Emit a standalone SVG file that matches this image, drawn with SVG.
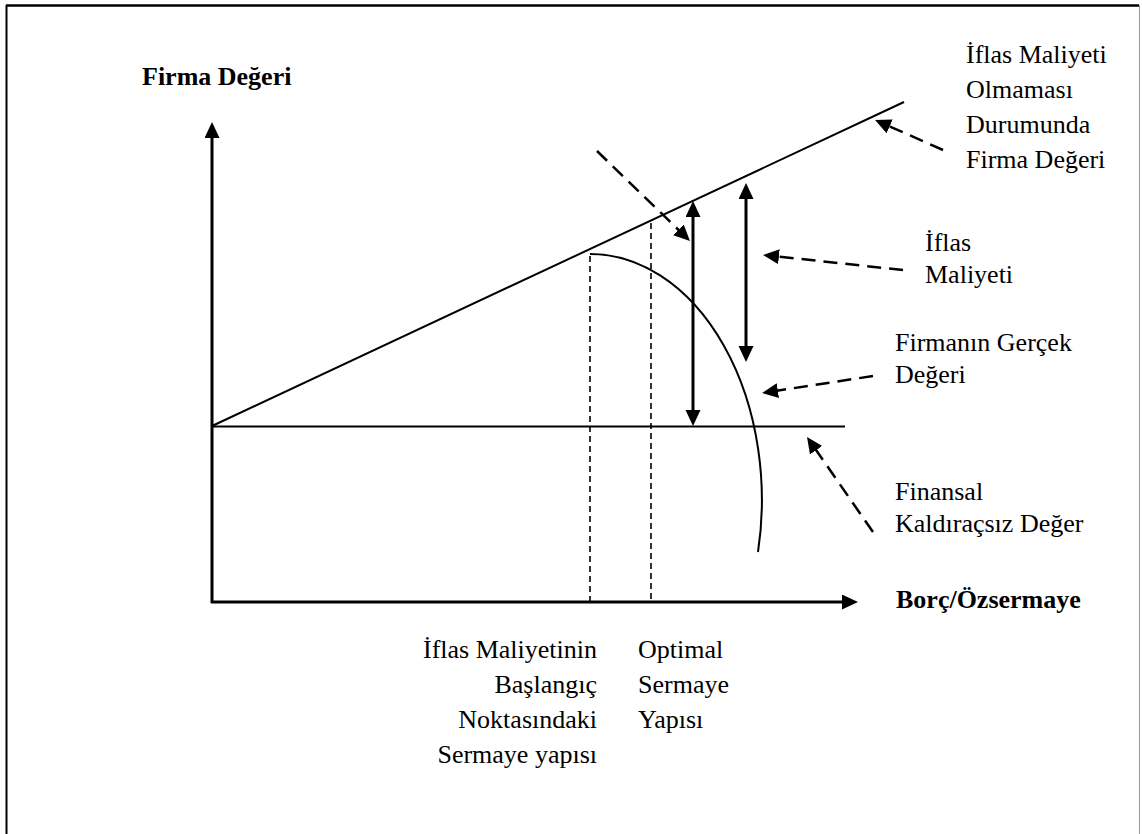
<svg xmlns="http://www.w3.org/2000/svg" width="1142" height="834" viewBox="0 0 1142 834">
<style>
text{font-family:"Liberation Serif","Times New Roman",serif;font-size:26px;fill:#000}
.b{font-weight:bold}
.axis{stroke:#000;stroke-width:3;fill:none}
.thin{stroke:#000;stroke-width:2;fill:none}
.dv{stroke:#000;stroke-width:1.6;stroke-dasharray:6 4;fill:none}
.ld{stroke:#000;stroke-width:2.5;stroke-dasharray:14 8;fill:none}
</style>
<defs>
<marker id="ah" markerUnits="userSpaceOnUse" markerWidth="18" markerHeight="16" refX="12" refY="7.5" orient="auto-start-reverse" viewBox="0 0 18 16"><path d="M0,0 L16,7.5 L0,15 Z" fill="#000"/></marker>
</defs>
<rect width="1142" height="834" fill="#fff"/>
<g id="frame">
<line x1="6" y1="5.5" x2="1139" y2="5.5" stroke="#000" stroke-width="2.5"/>
<line x1="6.5" y1="5" x2="6.5" y2="834" stroke="#000" stroke-width="2"/>
<line x1="1139.5" y1="5" x2="1139.5" y2="834" stroke="#999" stroke-width="1"/>
</g>
<g id="axes">
<line class="axis" x1="212" y1="603" x2="212" y2="126" marker-end="url(#ah)"/>
<line class="axis" x1="211" y1="602" x2="854" y2="602" marker-end="url(#ah)"/>
</g>
<g id="curves">
<line class="thin" x1="212" y1="426" x2="904" y2="102"/>
<line class="thin" x1="212" y1="426.5" x2="845" y2="426.5"/>
<path class="thin" d="M590,254 A172,246 0 0 1 758,552"/>
<line class="dv" x1="590" y1="256" x2="590" y2="601"/>
<line class="dv" x1="651" y1="223" x2="651" y2="601"/>
</g>
<g id="connectors">
<line class="axis" x1="693" y1="205" x2="693" y2="422" marker-start="url(#ah)" marker-end="url(#ah)"/>
<line class="axis" x1="746" y1="187" x2="746" y2="358" marker-start="url(#ah)" marker-end="url(#ah)"/>
<line class="ld" x1="943" y1="150" x2="878.7" y2="121.6" marker-end="url(#ah)"/>
<line class="ld" x1="597" y1="151" x2="687.1" y2="238.2" marker-end="url(#ah)"/>
<line class="ld" x1="903" y1="270" x2="767" y2="255.4" marker-end="url(#ah)"/>
<line class="ld" x1="873" y1="376" x2="766" y2="392.4" marker-end="url(#ah)"/>
<line class="ld" x1="873" y1="532" x2="809.3" y2="440.3" marker-end="url(#ah)"/>
</g>
<g id="label-firma-degeri"><text class="b" x="142" y="85">Firma Değeri</text></g>
<g id="label-borc"><text class="b" x="896" y="608">Borç/Özsermaye</text></g>
<g id="label-iflas-olmamasi">
<text x="966" y="63">İflas Maliyeti</text>
<text x="966" y="98">Olmaması</text>
<text x="966" y="133">Durumunda</text>
<text x="966" y="168">Firma Değeri</text>
</g>
<g id="label-iflas-maliyeti">
<text x="925" y="251">İflas</text>
<text x="925" y="283">Maliyeti</text>
</g>
<g id="label-gercek-deger">
<text x="895" y="351">Firmanın Gerçek</text>
<text x="895" y="383">Değeri</text>
</g>
<g id="label-kaldiracsiz">
<text x="895" y="500">Finansal</text>
<text x="895" y="532">Kaldıraçsız Değer</text>
</g>
<g id="label-baslangic" text-anchor="end">
<text x="597" y="658">İflas Maliyetinin</text>
<text x="597" y="693">Başlangıç</text>
<text x="597" y="728">Noktasındaki</text>
<text x="597" y="763">Sermaye yapısı</text>
</g>
<g id="label-optimal">
<text x="638" y="658">Optimal</text>
<text x="638" y="693">Sermaye</text>
<text x="638" y="728">Yapısı</text>
</g>
</svg>
